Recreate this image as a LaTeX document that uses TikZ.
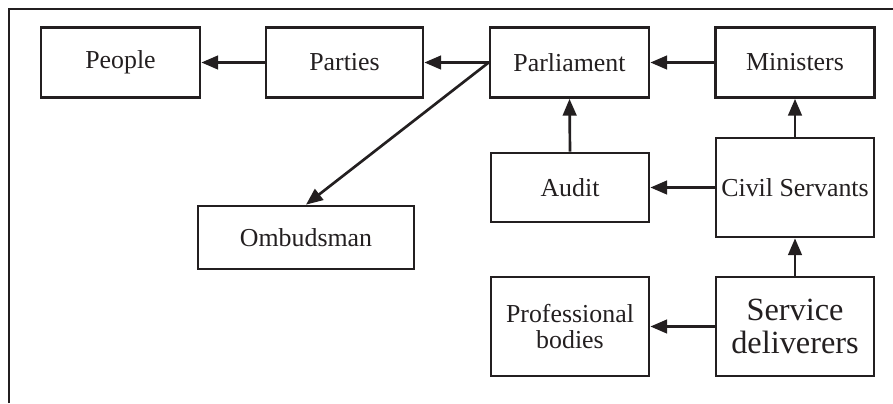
\documentclass[tikz,border=0pt]{standalone}
\usepackage{fontspec}
\setmainfont{Liberation Serif}
\usepackage{tikz}
\usetikzlibrary{arrows.meta}
\definecolor{BLACK}{HTML}{231F20}

\tikzset{
    box/.style={draw=BLACK, line width=1.9pt, minimum height=70*0.025cm,
        inner sep=0pt, align=center, text=BLACK,
        font=\fontsize{18.4}{18}\selectfont},
    link/.style={BLACK, line width=1.9pt, -{Triangle[length=0.42cm,width=0.34cm]}}
}

\begin{document}
\begin{tikzpicture}[x=0.025cm, y=-0.025cm]
    \useasboundingbox (0,0) rectangle (893,403);
    % frame
    \draw[BLACK, line width=1.9pt] (9,403) -- (9,9) -- (893,9);

    % top row
    \node[box, minimum width=159*0.025cm] (people) at (120.5,62.5) {People};
    \node[box, minimum width=157*0.025cm] (parties) at (344.5,62.5) {Parties};
    \node[box, minimum width=159*0.025cm] (parliament) at (569.5,62.5) {Parliament};
    \node[box, minimum width=159*0.025cm] (ministers) at (795,62.5) {Ministers};

    % middle
    \node[box, minimum width=158*0.025cm, minimum height=69*0.025cm] (audit) at (570,187.5) {Audit};
    \node[box, minimum width=158*0.025cm, minimum height=99*0.025cm] (civil) at (795,187.5) {Civil Servants};
    \node[box, minimum width=216*0.025cm, minimum height=63*0.025cm] (ombudsman) at (306,237.5) {Ombudsman};

    % bottom
    \node[box, minimum width=158*0.025cm, minimum height=99*0.025cm] (professional) at (570,326.5) {Professional\\bodies};
    \node[box, minimum width=158*0.025cm, minimum height=99*0.025cm,
        font=\fontsize{23}{23}\selectfont] (service) at (795,326.5) {Service\\deliverers};

    \draw[link] (parties.west) -- (people.east);
    \draw[link] (parliament.west) -- (parties.east);
    \draw[link] (parliament.west) -- (ombudsman.north);
    \draw[link] (ministers.west) -- (parliament.east);
    \draw[link] (audit.north) -- (parliament.south);
    \draw[link] (civil.north) -- (ministers.south);
    \draw[link] (civil.west) -- (audit.east);
    \draw[link] (service.north) -- (civil.south);
    \draw[link] (service.west) -- (professional.east);
\end{tikzpicture}
\end{document}
